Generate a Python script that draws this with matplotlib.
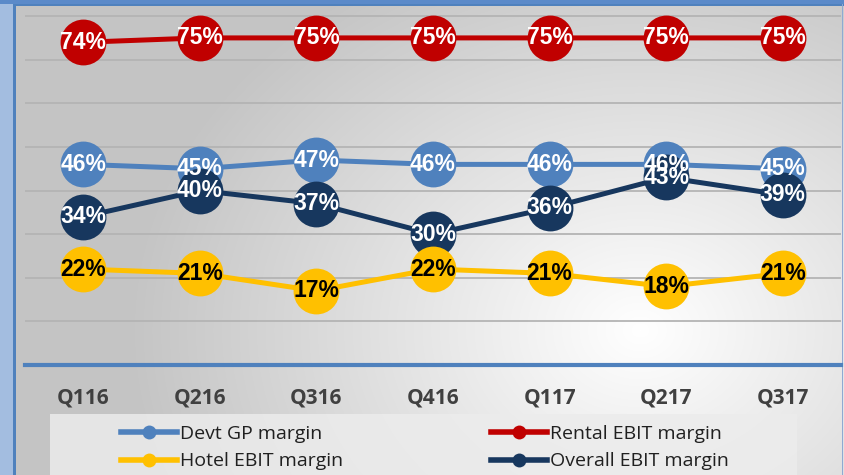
import numpy as np
import matplotlib.pyplot as plt
from matplotlib.lines import Line2D
from matplotlib.patches import Rectangle

quarters = ["Q116", "Q216", "Q316", "Q416", "Q117", "Q217", "Q317"]
devt_gp = [46, 45, 47, 46, 46, 46, 45]
rental_ebit = [74, 75, 75, 75, 75, 75, 75]
hotel_ebit = [22, 21, 17, 22, 21, 18, 21]
overall_ebit = [34, 40, 37, 30, 36, 43, 39]

names = ["Devt GP margin", "Rental EBIT margin", "Hotel EBIT margin", "Overall EBIT margin"]
colors = ["#4F81BD", "#C00000", "#FFC000", "#17375E"]

body = "Open Sans"

W, H = 844, 475
fig = plt.figure(figsize=(W / 100, H / 100), dpi=100)
fig.patch.set_facecolor("#A3BDE0")

# background panel with a soft radial gradient
bg = fig.add_axes([0, 0, 1, 1], zorder=-5)
bg.set_xlim(0, W)
bg.set_ylim(H, 0)
bg.axis("off")
yy, xx = np.mgrid[0:H, 0:W]
d = np.sqrt(((xx - 640) / 600.0) ** 2 + ((yy - 330) / 480.0) ** 2)
shade = np.clip(1.0 - 0.27 * d, 0.77, 1.0)
img = np.dstack([shade, shade, shade])
bg.imshow(img[5:, 15:], extent=(15, W, H, 5), aspect="auto")
bg.add_patch(Rectangle((0, 0), W, 4, color="#5B8AC9", lw=0))
bg.add_patch(Rectangle((13, 4), 2.5, H, color="#4F81BD", lw=0))
bg.add_patch(Rectangle((15, 4), W, 1.5, color="#4F81BD", lw=0))
bg.add_patch(Rectangle((W - 2.5, 4), 1.5, H, color="#8FA9D3", lw=0))
# legend box
bg.add_patch(Rectangle((50, 414), 747, 62, color="#ECECEC", lw=0, alpha=0.85))

ax = fig.add_axes([25 / W, (H - 365) / H, 816 / W, 355 / H])
ax.patch.set_alpha(0)
ax.set_xlim(-0.5, len(quarters) - 0.5)
ax.set_ylim(0, 81.4)
for v in range(10, 90, 10):
    ax.axhline(v, color="#B4B4B4", lw=1.3, zorder=0)
ax.axhline(0, color="#4F81BD", lw=3, zorder=1, clip_on=False)
for s in ax.spines.values():
    s.set_visible(False)
ax.set_yticks([])
ax.set_xticks(range(len(quarters)))
ax.set_xticklabels(quarters, fontsize=15, fontweight="bold", color="#404040", family=body)
ax.tick_params(axis="x", length=0, pad=16)

x = np.arange(len(quarters))
series = [devt_gp, rental_ebit, overall_ebit, hotel_ebit]
order = [0, 1, 3, 2]
for i, vals in zip(order, series):
    ax.plot(x, vals, color=colors[i], lw=3.6, marker="o", markersize=33,
            markeredgewidth=0, zorder=2 + order.index(i), solid_capstyle="round")

for i, vals in zip(order, series):
    tc = "black" if i == 2 else "white"
    for xi, v in zip(x, vals):
        ax.text(xi, v, f"{v}%", ha="center", va="center", fontsize=16.5,
                fontweight="bold", color=tc, family="Liberation Sans", zorder=10)

handles = [Line2D([], [], color=c, lw=4, marker="o", markersize=10, markeredgewidth=0)
           for c in colors]
# legend fills column by column: reorder so rows read Devt/Rental, Hotel/Overall
leg_order = [0, 2, 1, 3]
leg = fig.legend([handles[k] for k in leg_order], [names[k] for k in leg_order],
                 ncol=2, loc="upper left",
                 bbox_to_anchor=(110 / W, (H - 414) / H), frameon=False,
                 prop={"family": body, "size": 14}, handlelength=2.9,
                 handletextpad=0.15, columnspacing=7.6, labelspacing=0.5,
                 borderpad=0.05, labelcolor="#202020")

fig.savefig("out.png", dpi=100)
